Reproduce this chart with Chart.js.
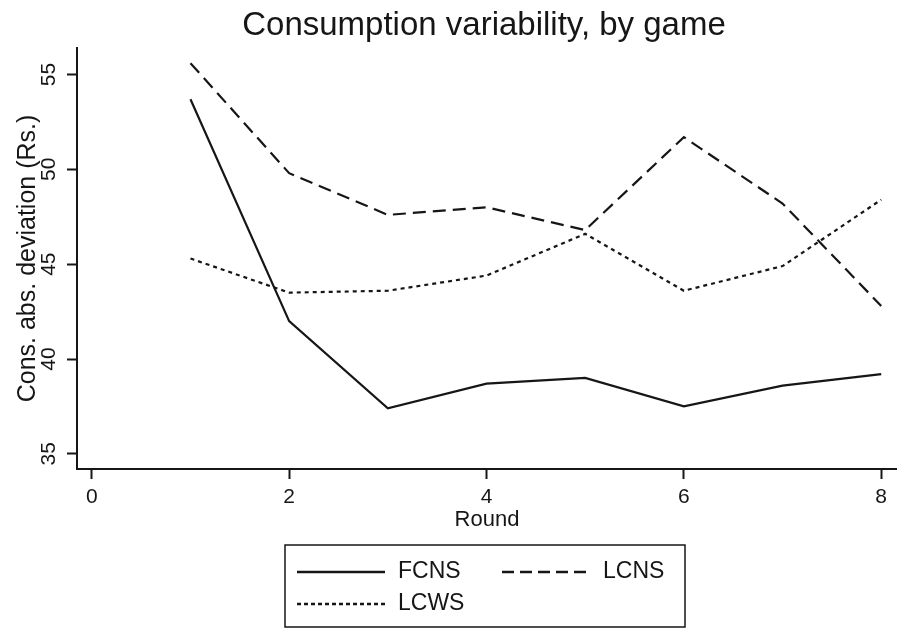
<!DOCTYPE html>
<html>
<head>
<meta charset="utf-8">
<title>Consumption variability, by game</title>
<script src="https://cdn.jsdelivr.net/npm/chart.js@4.4.1/dist/chart.umd.min.js"></script>
<style>
  html, body { margin: 0; padding: 0; background: #fff; }
  #wrap { position: relative; width: 897px; height: 628px; }
</style>
</head>
<body>
<div id="wrap"><canvas id="variability_chart"></canvas></div>
<script>
// data
var rounds = [1, 2, 3, 4, 5, 6, 7, 8];
var fcns = [53.7, 42.0, 37.4, 38.7, 39.0, 37.5, 38.6, 39.2];
var lcns = [55.6, 49.8, 47.6, 48.0, 46.8, 51.7, 48.2, 42.8];
var lcws = [45.3, 43.5, 43.6, 44.4, 46.6, 43.6, 44.9, 48.4];
var xTicks = [0, 2, 4, 6, 8];
var yTicks = [35, 40, 45, 50, 55];
var seriesNames = ['FCNS', 'LCNS', 'LCWS'];

var ink = '#161616';
var fontFamily = '"Liberation Sans", Arial, Helvetica, sans-serif';

function points(values) {
	return rounds.map(function (r, i) { return { x: r, y: values[i] }; });
}

// title drawn over the plot region centre, like Stata does
var titlePlugin = {
	id: 'plotTitle',
	afterDraw: function (chart) {
		var ctx = chart.ctx, area = chart.chartArea;
		ctx.save();
		ctx.fillStyle = ink;
		ctx.font = '33px ' + fontFamily;
		ctx.textAlign = 'center';
		ctx.textBaseline = 'alphabetic';
		ctx.fillText('Consumption variability, by game', (area.left + area.right) / 2 - 3, 35);
		ctx.restore();
	}
};

// boxed legend, two columns
var boxLegend = {
	id: 'boxLegend',
	afterDraw: function (chart) {
		var ctx = chart.ctx, area = chart.chartArea;
		var boxW = 400, boxH = 82;
		var left = (area.left + area.right) / 2 - boxW / 2 - 2;
		var top = 545;
		ctx.save();
		ctx.strokeStyle = ink;
		ctx.lineWidth = 1.5;
		ctx.strokeRect(left, top, boxW, boxH);
		ctx.font = '23px ' + fontFamily;
		ctx.textBaseline = 'middle';
		ctx.textAlign = 'left';
		chart.data.datasets.forEach(function (ds, i) {
			var col = i % 2, row = Math.floor(i / 2);
			var x0 = left + 12 + col * 205;
			var y0 = top + 27 + row * 32;
			ctx.beginPath();
			ctx.setLineDash(ds.legendDash || ds.borderDash || []);
			ctx.lineWidth = 2.4;
			ctx.strokeStyle = ink;
			ctx.moveTo(x0, y0);
			ctx.lineTo(x0 + 88, y0);
			ctx.stroke();
			ctx.setLineDash([]);
			ctx.fillStyle = ink;
			ctx.fillText(ds.label, x0 + 101, y0);
		});
		ctx.restore();
	}
};

var ctx = document.getElementById('variability_chart');
var myChart = new Chart(ctx, {
	type: 'line',
	data: {
		datasets: [{
			label: seriesNames[0],
			data: points(fcns),
			borderColor: ink,
			borderWidth: 2.2,
			borderDash: []
		}, {
			label: seriesNames[1],
			data: points(lcns),
			borderColor: ink,
			borderWidth: 2.2,
			borderDash: [13, 7],
			legendDash: [12, 6]
		}, {
			label: seriesNames[2],
			data: points(lcws),
			borderColor: ink,
			borderWidth: 2.2,
			borderDash: [4, 4],
			legendDash: [4, 3]
		}]
	},
	options: {
		responsive: true,
		maintainAspectRatio: false,
		animation: false,
		layout: { padding: { top: 48, left: 0, right: 0, bottom: 95 } },
		elements: { point: { radius: 0, hoverRadius: 0 }, line: { tension: 0 } },
		plugins: {
			legend: { display: false },
			title: { display: false },
			tooltip: { enabled: false }
		},
		scales: {
			x: {
				type: 'linear',
				min: -0.15,
				max: 8.16,
				afterBuildTicks: function (scale) {
					scale.ticks = xTicks.map(function (v) { return { value: v }; });
				},
				afterFit: function (scale) { scale.height = 64; },
				grid: { drawOnChartArea: false, drawTicks: true, tickLength: 10, tickWidth: 2, tickColor: ink },
				border: { display: true, color: ink, width: 2 },
				ticks: { color: ink, padding: 6, maxRotation: 0, font: { family: fontFamily, size: 21 } },
				title: {
					display: true,
					text: 'Round',
					color: ink,
					padding: { top: 0, bottom: 0 },
					font: { family: fontFamily, size: 22 }
				}
			},
			y: {
				type: 'linear',
				min: 34.2,
				max: 56.4,
				afterBuildTicks: function (scale) {
					scale.ticks = yTicks.map(function (v) { return { value: v }; });
				},
				afterFit: function (scale) { scale.width = 77; },
				grid: { drawOnChartArea: false, drawTicks: true, tickLength: 10, tickWidth: 2, tickColor: ink },
				border: { display: true, color: ink, width: 2 },
				ticks: {
					color: ink,
					padding: 6,
					minRotation: 90,
					maxRotation: 90,
					crossAlign: 'center',
					font: { family: fontFamily, size: 21 }
				},
				title: {
					display: true,
					text: 'Cons. abs. deviation (Rs.)',
					color: ink,
					padding: { top: 13, bottom: 0 },
					font: { family: fontFamily, size: 25 }
				}
			}
		}
	},
	plugins: [titlePlugin, boxLegend]
});
</script>
</body>
</html>
